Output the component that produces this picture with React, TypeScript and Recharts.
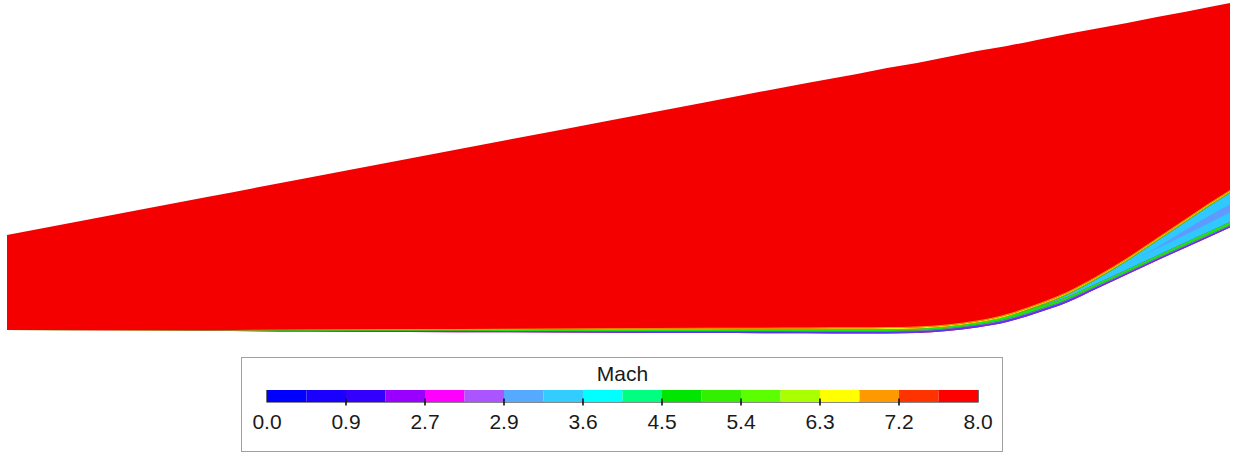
import { ComposedChart, Area, XAxis, YAxis, BarChart, Bar, ReferenceArea } from 'recharts';

// Streamwise stations along the ramp (mm from the inflow plane)
const stationX = [0, 100, 200, 300, 400, 500, 600, 700, 800, 850, 880, 910, 940, 970, 1000, 1030, 1060, 1090, 1120, 1150, 1180, 1200, 1223];
// Wall height and upper (freestream) boundary height at each station (mm)
const wallY = [4, 3.5, 3, 2.5, 2, 1.7, 1.3, 1, 0.7, 0.5, 0.5, 1, 3, 6.5, 12, 21, 31.5, 45.5, 59.5, 73.5, 87, 96, 106.5];
const topY = [99, 118, 137, 156, 175, 194, 213, 232, 251, 260, 266, 271, 277, 283, 288, 294, 300, 305.5, 311, 317, 322.5, 326.5, 331];

// Contour-line heights above the wall (mm), one list per Mach level
const edgeM27 = [0, 0.15, 0.3, 0.6, 0.9, 1.1, 1.3, 1.5, 1.6, 1.7, 1.8, 1.8, 1.8, 1.9, 2.0, 2.0, 2.0, 1.8, 1.6, 1.5, 1.5, 1.5, 1.5];
const edgeM36 = [0, 0.2, 0.4, 0.8, 1.2, 1.4, 1.8, 2.1, 2.3, 2.5, 2.6, 2.6, 2.6, 2.8, 3.0, 3.0, 3.0, 2.8, 2.6, 2.5, 2.5, 2.5, 2.5];
const edgeM45 = [0, 0.35, 0.7, 1.4, 2.1, 2.5, 3.1, 3.6, 4.0, 4.3, 4.5, 4.6, 4.6, 5.0, 5.8, 6.0, 5.6, 5.2, 5.0, 5.0, 5.2, 5.4, 5.8];
const edgeM54 = [0, 0.35, 0.7, 1.4, 2.1, 2.5, 3.1, 3.6, 4.0, 4.3, 4.5, 4.6, 4.6, 5.0, 5.8, 6.2, 7.6, 9.6, 13.6, 19.5, 26, 30.5, 34.5];
const edgeM63 = [0, 0.35, 0.7, 1.4, 2.1, 2.5, 3.1, 3.6, 4.0, 4.3, 4.5, 4.6, 4.6, 5.0, 5.8, 7.0, 8.6, 10.6, 14.6, 20.5, 27, 31.5, 35.5];
const edgeM72 = [0, 0.42, 0.85, 1.7, 2.55, 3.1, 3.8, 4.4, 4.9, 5.2, 5.4, 5.5, 5.5, 6.0, 7.0, 8.0, 9.6, 11.6, 15.6, 21.5, 28, 32.5, 36.5];
const edgeM80 = [0, 0.5, 1, 2, 3, 3.6, 4.5, 5.2, 5.8, 6.2, 6.4, 6.5, 6.5, 7, 8, 9, 10.5, 12.5, 16.5, 22.5, 29, 33.5, 37.5];
// Low-speed pocket inside the ramp shock layer (lower / upper height above wall)
const pocketLow = [0, 0, 0, 0, 0, 0, 0, 0, 0, 0, 0, 0, 0, 0, 0, 0, 0, 0, 10, 12, 13, 14, 15];
const pocketHigh = [0, 0, 0, 0, 0, 0, 0, 0, 0, 0, 0, 0, 0, 0, 0, 0, 0, 0, 10, 13, 18, 21, 23];

// Colour bar
const levelLabels = ['0.0', '0.9', '2.7', '2.9', '3.6', '4.5', '5.4', '6.3', '7.2', '8.0'];
const levelColors = [
  '#0000ff', '#1a00ff', '#3300ff', '#9900ff', '#ff00ff', '#aa55ff',
  '#55aaff', '#33ccff', '#00ffff', '#00ff80', '#00e600', '#33f000',
  '#5cff00', '#aaff00', '#ffff00', '#ff9900', '#ff3300', '#ff0000',
];

const FIELD_RED = '#f40000';
const FONT = '"Liberation Sans", Arial, sans-serif';

const bands = [
  { key: 'b1', color: '#5f30ff', lo: null, hi: edgeM27 },
  { key: 'b2', color: '#4a90ff', lo: edgeM27, hi: edgeM36 },
  { key: 'b3', color: '#19e619', lo: edgeM36, hi: edgeM45 },
  { key: 'b4', color: '#2fc8ff', lo: edgeM45, hi: edgeM54 },
  { key: 'b5', color: '#33ee00', lo: edgeM54, hi: edgeM63 },
  { key: 'b6', color: '#f0f500', lo: edgeM63, hi: edgeM72 },
  { key: 'b7', color: '#ff9a00', lo: edgeM72, hi: edgeM80 },
];

const fieldData = stationX.map((x, i) => {
  const w = wallY[i];
  const row: Record<string, any> = { x, field: [w, topY[i]] };
  bands.forEach(b => {
    row[b.key] = [w + (b.lo ? b.lo[i] : 0), w + b.hi[i]];
  });
  row.pocket = [w + pocketLow[i], w + pocketHigh[i]];
  return row;
});

const barRow: Record<string, any> = { name: 'Mach' };
levelColors.forEach((_, i) => { barRow[`s${i}`] = 1; });
const barData = [barRow];

function LevelTick(props: any) {
  const { x, y, payload } = props;
  const v = payload.value;
  const inner = v > 0 && v < levelColors.length;
  return (
    <g>
      {inner && <line x1={x} x2={x} y1={y - 3.5} y2={y + 3.5} stroke="#111" strokeWidth={1.6} />}
      <text x={x} y={y + 27} textAnchor="middle" fontFamily={FONT} fontSize={21} fill="#1a1a1a">
        {levelLabels[v / 2]}
      </text>
    </g>
  );
}

export default function App() {
  return (
    <div style={{ position: 'relative', width: 1235, height: 457, background: '#fff' }}>
      <style>{'body{margin:0}'}</style>
      <div style={{ position: 'absolute', left: 0, top: 0 }}>
        <ComposedChart width={1235} height={457} data={fieldData} margin={{ top: 0, right: 0, bottom: 0, left: 0 }}>
          <XAxis dataKey="x" type="number" domain={[-7, 1228]} hide allowDataOverflow />
          <YAxis type="number" domain={[-123, 334]} hide allowDataOverflow />
          <Area type="monotone" dataKey="field" fill={FIELD_RED} fillOpacity={1} stroke="none" dot={false} activeDot={false} isAnimationActive={false} />
          {bands.map(b => (
            <Area key={b.key} type="monotone" dataKey={b.key} fill={b.color} fillOpacity={1} stroke="none" dot={false} activeDot={false} isAnimationActive={false} />
          ))}
          <Area type="monotone" dataKey="pocket" fill="#6d8dff" fillOpacity={0.8} stroke="none" dot={false} activeDot={false} isAnimationActive={false} />
        </ComposedChart>
      </div>

      {/* legend box */}
      <div style={{ position: 'absolute', left: 241, top: 357, width: 762, height: 95, boxSizing: 'border-box', border: '1px solid #a0a0a0' }} />
      <svg style={{ position: 'absolute', left: 0, top: 0 }} width={1235} height={457} pointerEvents="none">
        <text x={622.5} y={380.7} textAnchor="middle" fontFamily={FONT} fontSize={21} fill="#1a1a1a">Mach</text>
      </svg>
      <div style={{ position: 'absolute', left: 246.5, top: 389.5 }}>
        <BarChart width={751} height={52} layout="vertical" data={barData} barCategoryGap={0} margin={{ top: 0, right: 20, bottom: 0, left: 20 }}>
          <XAxis type="number" domain={[0, 18]} ticks={[0, 2, 4, 6, 8, 10, 12, 14, 16, 18]} interval={0} height={40}
            tickSize={0} tickMargin={0} axisLine={false} tick={<LevelTick />} allowDataOverflow />
          <YAxis type="category" dataKey="name" hide />
          {levelColors.map((c, i) => (
            <Bar key={i} dataKey={`s${i}`} stackId="cb" fill={c} stroke="none" isAnimationActive={false} />
          ))}
          <ReferenceArea x1={0} x2={18} fill="none" stroke="#111" strokeWidth={1.2} ifOverflow="visible" />
        </BarChart>
      </div>
    </div>
  );
}
